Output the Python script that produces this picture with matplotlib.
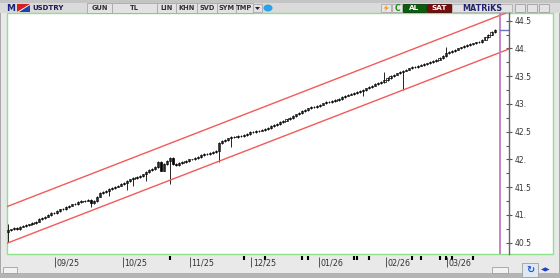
import matplotlib
matplotlib.use("Agg")
import matplotlib.pyplot as plt
from matplotlib.patches import Rectangle, Polygon, Ellipse
from matplotlib.ticker import MultipleLocator, FuncFormatter

W, H = 560, 278

# gunluk kapanislar (USDTRY), Agustos 2025 - Mart 2026
first_open = 40.70
closes = [
    40.72, 40.74, 40.76, 40.75, 40.79, 40.80, 40.82, 40.83, 40.86, 40.88,
    40.93, 40.95, 40.97, 41.00, 41.03, 41.04, 41.07, 41.10, 41.11, 41.14,
    41.17, 41.19, 41.20, 41.23, 41.25, 41.26, 41.27, 41.22, 41.25, 41.33,
    41.39, 41.41, 41.44, 41.47, 41.49, 41.51, 41.53, 41.56, 41.58, 41.61,
    41.64, 41.66, 41.68, 41.70, 41.73, 41.77, 41.81, 41.83, 41.86, 41.95,
    41.80, 41.92, 41.98, 42.03, 41.92, 41.90, 41.93, 41.95, 41.97, 42.00,
    42.00, 42.03, 42.05, 42.08, 42.10, 42.09, 42.12, 42.13, 42.15, 42.30,
    42.33, 42.35, 42.38, 42.40, 42.41, 42.43, 42.42, 42.44, 42.46, 42.49,
    42.50, 42.51, 42.52, 42.53, 42.55, 42.57, 42.60, 42.62, 42.64, 42.67,
    42.70, 42.72, 42.75, 42.78, 42.81, 42.84, 42.87, 42.89, 42.92, 42.94,
    42.95, 42.96, 42.99, 43.01, 43.03, 43.04, 43.05, 43.07, 43.09, 43.12,
    43.15, 43.17, 43.18, 43.20, 43.21, 43.24, 43.25, 43.28, 43.30, 43.33,
    43.36, 43.38, 43.39, 43.43, 43.47, 43.50, 43.53, 43.55, 43.58, 43.60,
    43.62, 43.64, 43.66, 43.67, 43.69, 43.70, 43.72, 43.73, 43.75, 43.77,
    43.80, 43.83, 43.87, 43.92, 43.94, 43.96, 43.98, 44.00, 44.02, 44.04,
    44.06, 44.08, 44.09, 44.11, 44.12, 44.16, 44.20, 44.25, 44.30, 44.34,
]
# uzun alt fitiller
wick_idx = [0, 27, 33, 39, 41, 45, 53, 69, 73, 116, 129]
wick_low = [40.52, 41.15, 41.35, 41.45, 41.52, 41.62, 41.55, 41.95, 42.22, 43.15, 43.25]
# uzun ust fitiller
spike_idx = [0, 123, 143]
spike_high = [40.84, 43.58, 44.03]

# trend kanali
chan_x = [-0.33, 163.7]
chan_lower = [40.49, 43.99]
chan_upper = [41.15, 44.66]

month_idx = [16, 38, 60, 80, 102, 124, 144]
month_labels = ["09/25", "10/25", "11/25", "12/25", "01/26", "02/26", "03/26"]
event_idx = [53, 77, 84, 96, 98, 113, 114, 118, 132, 135, 141, 143, 145, 152]
today_idx = 160.8


def fx(x):
    return x / W


def fy(y):
    return 1 - y / H


def box(x0, y0, x1, y1, fc, ec="#9a9a9a", lw=0.6):
    fig.add_artist(Rectangle((fx(x0), fy(y1)), (x1 - x0) / W, (y1 - y0) / H,
                             transform=fig.transFigure, fc=fc, ec=ec, lw=lw,
                             zorder=-1))


def label(x, y, s, **kw):
    fig.text(fx(x), fy(y), s, va="center", **kw)


fig = plt.figure(figsize=(W / 100, H / 100), dpi=100, facecolor="#eeeeee")

# pencere cercevesi
box(0, 0, 560, 278, "#e9e9e9", ec="#9c9c9c", lw=1.2)
box(0, 0, 560, 13, "#dadada", ec="none")
box(0, 0, 560, 3, "#c4c4c4", ec="none")
box(7, 13, 553, 254, "white", ec="#8fe08f", lw=1.0)
box(0, 273, 560, 278, "#b4b4b4", ec="none")

# ust arac cubugu
label(11, 8.5, "M", ha="center", color="#1a237e", fontsize=6.5, fontweight="bold")
box(17, 4, 30, 12, "white", ec="none")
fig.add_artist(Polygon([(fx(17), fy(4)), (fx(30), fy(4)), (fx(17), fy(12))],
                       transform=fig.transFigure, fc="#d32020", ec="none"))
fig.add_artist(Polygon([(fx(30), fy(5)), (fx(30), fy(12)), (fx(19), fy(12))],
                       transform=fig.transFigure, fc="#2340b0", ec="none"))
label(32, 8.5, "USDTRY", ha="left", color="#1a1a50", fontsize=5, fontweight="bold")

buttons = [(87, 112, "GUN"), (112, 157, "TL"), (157, 176, "LIN"), (176, 197, "KHN"),
           (197, 217, "SVD"), (217, 236, "SYM"), (236, 253, "TMP")]
for x0, x1, txt in buttons:
    box(x0, 3, x1, 13, "#e2e2e2", ec="#a8a8a8")
    label((x0 + x1) / 2, 8.5, txt, ha="center", color="#303030", fontsize=4.8,
          fontweight="bold")
box(253, 4, 262, 12, "#e2e2e2", ec="#a8a8a8")
fig.add_artist(Polygon([(fx(255), fy(7)), (fx(260), fy(7)), (fx(257.5), fy(10))],
                       transform=fig.transFigure, fc="#202040", ec="none"))
fig.add_artist(Ellipse((fx(268), fy(8)), 9 / W, 7 / H, transform=fig.transFigure,
                       fc="#2aa3e8", ec="none"))

box(381, 4, 391, 12, "#e6e6e6", ec="#a8a8a8")
fig.add_artist(Polygon([(fx(387), fy(5)), (fx(383.5), fy(8.5)), (fx(386), fy(8.5)),
                        (fx(384.5), fy(11.5)), (fx(389), fy(7.5)), (fx(386.5), fy(7.5))],
                       transform=fig.transFigure, fc="#f29a18", ec="none"))
box(392, 4, 402, 12, "#e6e6e6", ec="#a8a8a8")
label(397, 8.5, "C", ha="center", color="#1b8a1b", fontsize=5.5, fontweight="bold")
box(403, 4, 426, 12, "#0b5e0b", ec="#063806")
label(414.5, 8.5, "AL", ha="center", color="white", fontsize=5.2, fontweight="bold")
box(427, 4, 451, 12, "#7a0d0d", ec="#4a0505")
label(439, 8.5, "SAT", ha="center", color="white", fontsize=5.2, fontweight="bold")
box(452, 4, 512, 12, "#e3e3e3", ec="#b0b0b0")
label(482, 8.5, "MATRiKS", ha="center", color="#22226e", fontsize=5.8, fontweight="bold")
for x0 in [515, 527, 539]:
    box(x0, 4, x0 + 10, 12, "#e3e3e3", ec="#a0a0a0")

# alt kisim
box(3, 267, 17, 273, "#f2f2f2", ec="#a0a0a0")
box(492, 267, 508, 273, "#f2f2f2", ec="#a0a0a0")
box(522, 263, 538, 277, "#e0e8f4", ec="#a0a0a0")
label(530, 270, "\u21bb", ha="center", color="#1f55c8", fontsize=7, fontweight="bold")
label(546, 270, "\u25c0\u25b6", ha="center", color="#1f3fc8", fontsize=4.5)

# grafik alani
ax = fig.add_axes([fx(7), fy(254), (509 - 7) / W, (254 - 13) / H])
ax.set_zorder(5)
ax.set_facecolor("none")
ax.set_xlim(-0.33, 163.7)
ax.set_ylim(40.296, 44.639)

opens = [first_open] + closes[:-1]
for i, (o, c) in enumerate(zip(opens, closes)):
    lo = min(o, c) - 0.015
    hi = max(o, c) + 0.015
    if i in wick_idx:
        lo = wick_low[wick_idx.index(i)]
    if i in spike_idx:
        hi = spike_high[spike_idx.index(i)]
    ax.vlines(i, lo, hi, color="black", lw=0.6)
    ax.bar(i, max(abs(c - o), 0.008), bottom=min(o, c), width=0.7,
           color="white" if c >= o else "black", edgecolor="black", lw=0.5)

ax.plot(chan_x, chan_lower, color="#f25a5a", lw=1.0)
ax.plot(chan_x, chan_upper, color="#f25a5a", lw=1.0)
ax.axvline(today_idx, color="#c07cc0", lw=1.3)
ax.plot([today_idx, chan_x[1]], [closes[-1], closes[-1]], color="#7070c0", lw=1.0)

for s in ["top", "left", "bottom"]:
    ax.spines[s].set_visible(False)
ax.spines["right"].set_color("#666666")
ax.spines["right"].set_linewidth(1.0)
ax.yaxis.tick_right()
ax.yaxis.set_major_locator(MultipleLocator(0.5))
ax.yaxis.set_minor_locator(MultipleLocator(0.25))
ax.yaxis.set_major_formatter(FuncFormatter(
    lambda v, p: f"{v:.0f}." if abs(v - round(v)) < 1e-6 else f"{v:.1f}"))
ax.tick_params(axis="y", which="major", direction="inout", length=5, width=0.8,
               color="#555555", labelsize=5.5, labelcolor="#333333", pad=1.5)
ax.tick_params(axis="y", which="minor", direction="in", length=2.5, width=0.8,
               color="#555555")
ax.set_xticks([])

# ay etiketleri
tr = ax.get_xaxis_transform()
px = 1 / 241
for i, txt in zip(month_idx, month_labels):
    ax.vlines(i - 0.5, -3 * px, -13 * px, transform=tr, color="#555555", lw=0.7,
              clip_on=False)
    ax.text(i, -9 * px, txt, transform=tr, ha="left", va="center", fontsize=5.8,
            color="#333333", clip_on=False)
for i in event_idx:
    ax.vlines(i, -2 * px, -5.5 * px, transform=tr, color="black", lw=1.5,
              clip_on=False)

fig.savefig("out.png", dpi=100, facecolor=fig.get_facecolor())
